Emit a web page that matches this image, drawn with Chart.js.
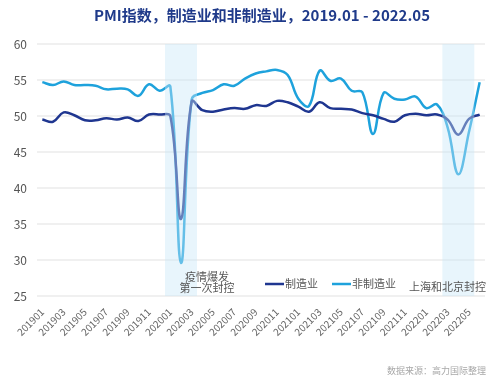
<!DOCTYPE html>
<html>
<head>
<meta charset="utf-8">
<script src="https://cdn.jsdelivr.net/npm/chart.js@4"></script>
<style>
html,body{margin:0;padding:0;background:#fff;}
#wrap{position:relative;width:500px;height:381px;}
</style>
</head>
<body>
<div id="wrap"><canvas id="c" width="500" height="381"></canvas></div>
<script>
const months = ['201901','201902','201903','201904','201905','201906','201907','201908','201909','201910','201911','201912',
'202001','202002','202003','202004','202005','202006','202007','202008','202009','202010','202011','202012',
'202101','202102','202103','202104','202105','202106','202107','202108','202109','202110','202111','202112',
'202201','202202','202203','202204','202205','202206'];
const manufacturing = [49.5,49.2,50.5,50.1,49.4,49.4,49.7,49.5,49.8,49.3,50.2,50.2,
50.0,35.7,52.0,50.8,50.6,50.9,51.1,51.0,51.5,51.4,52.1,51.9,
51.3,50.6,51.9,51.1,51.0,50.9,50.4,50.1,49.6,49.2,50.1,50.3,
50.1,50.2,49.5,47.4,49.6,50.2];
const nonManufacturing = [54.7,54.3,54.8,54.3,54.3,54.2,53.7,53.8,53.7,52.8,54.4,53.5,
54.1,29.6,52.3,53.2,53.6,54.4,54.2,55.2,55.9,56.2,56.4,55.7,
52.4,51.4,56.3,54.9,55.2,53.5,53.3,47.5,53.2,52.4,52.3,52.7,
51.1,51.6,48.4,41.9,47.8,54.7];
const seriesNames = ['制造业','非制造业'];
const yTicks = [25,30,35,40,45,50,55,60];
const shadedPeriods = [['202001','202003'],['202203','202205']];
const periodNotes = [['疫情爆发','第一次封控'],['上海和北京封控']];
const titleText = 'PMI指数，制造业和非制造业，2019.01 - 2022.05';
const sourceText = '数据来源：高力国际整理';

const NAVY = '#1f3690';
const SKY = '#1ea2dc';
const FONT = "'Noto Sans CJK SC','Noto Sans',sans-serif";

const overlay = {
  id: 'overlay',
  afterDatasetsDraw(chart) {
    const {ctx, chartArea: a, scales: {x}} = chart;
    ctx.save();
    ctx.fillStyle = 'rgba(200,232,248,0.42)';
    const bands = shadedPeriods.map(p => {
      const x0 = x.getPixelForValue(months.indexOf(p[0]) - 0.5);
      const x1 = x.getPixelForValue(months.indexOf(p[1]) + 0.5);
      ctx.fillRect(x0, a.top, x1 - x0, a.bottom - a.top);
      return [x0, x1];
    });
    // notes
    ctx.fillStyle = '#555';
    ctx.font = '11px ' + FONT;
    ctx.textBaseline = 'middle';
    ctx.textAlign = 'center';
    const c1 = (bands[0][0] + bands[0][1]) / 2 + 26;
    ctx.fillText(periodNotes[0][0], c1, a.bottom - 19);
    ctx.fillText(periodNotes[0][1], c1, a.bottom - 8);
    ctx.textAlign = 'right';
    ctx.fillText(periodNotes[1][0], a.right + 1, a.bottom - 9);
    // legend
    const ly = a.bottom - 12;
    let lx = 265;
    ctx.textAlign = 'left';
    chart.data.datasets.forEach((ds, i) => {
      ctx.strokeStyle = ds.borderColor;
      ctx.lineWidth = 2.5;
      ctx.beginPath();
      ctx.moveTo(lx, ly);
      ctx.lineTo(lx + 19, ly);
      ctx.stroke();
      ctx.fillStyle = '#555';
      ctx.fillText(ds.label, lx + 20, ly);
      lx += 20 + ctx.measureText(ds.label).width + 14;
    });
    ctx.restore();
  },
  afterDraw(chart) {
    const {ctx} = chart;
    ctx.save();
    ctx.fillStyle = '#1f3a8a';
    ctx.font = 'bold 15px ' + FONT;
    ctx.textAlign = 'center';
    ctx.textBaseline = 'middle';
    ctx.fillText(titleText, 262, 15);
    ctx.fillStyle = '#a8a8a8';
    ctx.font = '9px ' + FONT;
    ctx.textAlign = 'right';
    ctx.fillText(sourceText, 486, 371);
    ctx.restore();
  }
};

new Chart(document.getElementById('c'), {
  type: 'line',
  data: {
    labels: months,
    datasets: [
      {label: seriesNames[0], data: manufacturing, borderColor: NAVY, backgroundColor: NAVY, borderWidth: 2.5, pointRadius: 0, tension: 0.4, fill: false},
      {label: seriesNames[1], data: nonManufacturing, borderColor: SKY, backgroundColor: SKY, borderWidth: 2.5, pointRadius: 0, tension: 0.4, fill: false}
    ]
  },
  options: {
    responsive: false,
    animation: false,
    layout: {padding: {top: 44, right: 15, bottom: 0, left: 0}},
    plugins: {legend: {display: false}, title: {display: false}, tooltip: {enabled: false}},
    scales: {
      x: {
        offset: true,
        grid: {display: false},
        border: {display: false},
        afterFit(s) { s.height = 85; },
        ticks: {
          autoSkip: false, minRotation: 45, maxRotation: 45, padding: 2,
          color: '#666', font: {family: FONT, size: 10},
          callback(v, i) { return i % 2 === 0 ? months[i] : ''; }
        }
      },
      y: {
        min: 25, max: 60,
        afterFit(s) { s.width = 37; },
        afterBuildTicks(s) { s.ticks = yTicks.map(v => ({value: v})); },
        grid: {color: '#f0f0f0', lineWidth: 2, drawTicks: false},
        border: {display: false},
        ticks: {padding: 10, color: '#555', font: {family: FONT, size: 12}}
      }
    }
  },
  plugins: [overlay]
});
</script>
</body>
</html>
